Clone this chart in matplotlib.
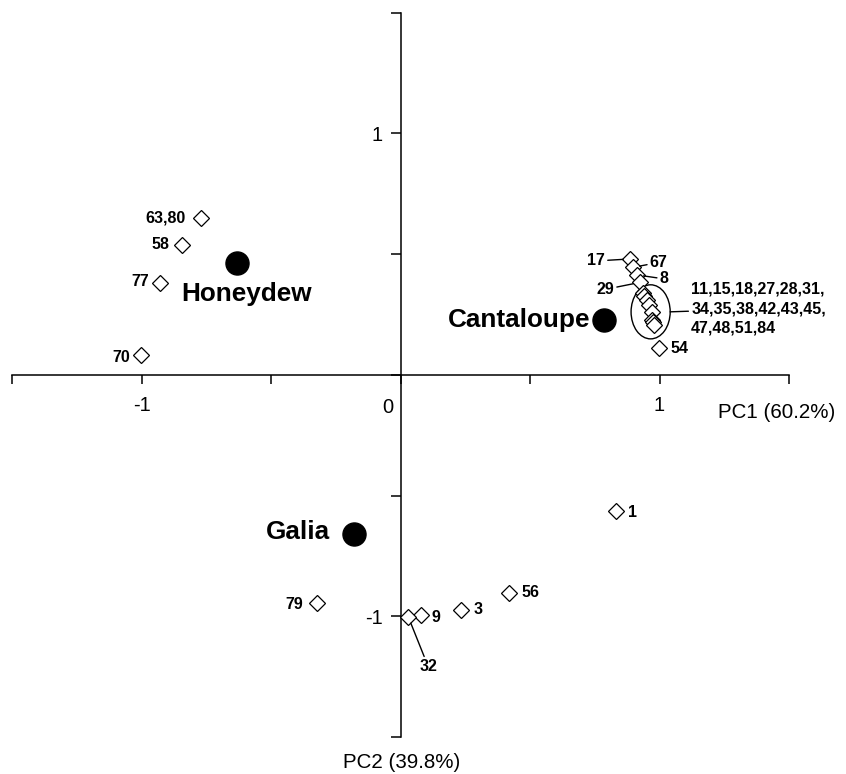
import matplotlib
matplotlib.use("Agg")
import matplotlib.pyplot as plt
from matplotlib.patches import Ellipse

plt.rcParams['font.family'] = ['Liberation Sans', 'DejaVu Sans']

# ---- data -------------------------------------------------------------
# individual samples (open diamonds)
sample_labels = ["63,80", "58", "77", "70", "54", "1", "56", "3", "9", "79",
                 "32", "17", "67", "8", "29"]
sample_pc1 = [-0.770, -0.844, -0.929, -1.003, 0.999, 0.832, 0.420, 0.234,
              0.078, -0.324, 0.030, 0.886, 0.897, 0.912, 0.925]
sample_pc2 = [0.650, 0.538, 0.379, 0.082, 0.111, -0.564, -0.902, -0.974,
              -0.995, -0.944, -1.002, 0.480, 0.445, 0.414, 0.383]

# tight cluster of samples (circled)
cluster_label = "11,15,18,27,28,31,\n34,35,38,42,43,45,\n47,48,51,84"
cluster_pc1 = [0.938, 0.942, 0.951, 0.961, 0.970, 0.970, 0.975, 0.979]
cluster_pc2 = [0.339, 0.327, 0.310, 0.289, 0.262, 0.227, 0.219, 0.207]

# melon types (filled circles)
group_labels = ["Honeydew", "Cantaloupe", "Galia"]
group_pc1 = [-0.632, 0.786, -0.178]
group_pc2 = [0.465, 0.227, -0.658]

tick_values = [-1.5, -1.0, -0.5, 0.0, 0.5, 1.0, 1.5]
tick_text = ["", "-1", "", "", "", "1", ""]

xlabel = "PC1 (60.2%)"
ylabel = "PC2 (39.8%)"

# ---- styling: label offsets (pixels) and leader lines -------------------
label_offsets = {
    "63,80": (-15, 0, "right"), "58": (-13, 0, "right"), "77": (-11, 2, "right"),
    "70": (-11, -2, "right"), "54": (11, 0, "left"), "1": (12, -1, "left"),
    "56": (12, 0, "left"), "3": (12, 1, "left"), "9": (11, -2, "left"),
    "79": (-13, -2, "right"), "32": (20, -50, "center"), "17": (-25, -2, "right"),
    "67": (17, 5, "left"), "8": (23, -4, "left"), "29": (-26, -7, "right"),
}
leader = {"32", "17", "67", "8", "29"}
group_offsets = {"Honeydew": (10, -31, "center"), "Cantaloupe": (-14, 0, "right"),
                 "Galia": (-24, 2, "right")}

# ---- figure ----------------------------------------------------------------
fig = plt.figure(figsize=(8.46, 7.74), dpi=100)
ax = fig.add_axes([12 / 846, 37 / 774, 777 / 846, 724.3 / 774])
ax.set_xlim(-1.5, 1.5)
ax.set_ylim(-1.5, 1.5)
for s in ("top", "right"):
    ax.spines[s].set_visible(False)
ax.spines["left"].set_position(("data", 0))
ax.spines["bottom"].set_position(("data", 0))
for s in ("left", "bottom"):
    ax.spines[s].set_linewidth(1.1)
ax.set_xticks(tick_values)
ax.set_yticks(tick_values)
ax.set_xticklabels(tick_text)
ax.set_yticklabels(tick_text)
ax.tick_params(axis="x", direction="out", length=6.5, width=1.1, pad=9, labelsize=14.5)
ax.tick_params(axis="y", direction="out", length=7.5, width=1.1, pad=5.5, labelsize=14.5)
ax.annotate("0", xy=(0, 0), xytext=(-13, -33), textcoords="offset pixels",
            ha="center", va="center", fontsize=14.5)

# samples
ax.plot(sample_pc1, sample_pc2, linestyle="none", marker="D", ms=8,
        mfc="white", mec="black", mew=0.9, zorder=3)
ax.plot(cluster_pc1, cluster_pc2, linestyle="none", marker="D", ms=8,
        mfc="white", mec="black", mew=0.9, zorder=3)

for lab, x, y in zip(sample_labels, sample_pc1, sample_pc2):
    dx, dy, ha = label_offsets[lab]
    kw = {}
    if lab in leader:
        kw["arrowprops"] = dict(arrowstyle="-", lw=1.0, color="black",
                                shrinkA=0, shrinkB=5)
    ax.annotate(lab, xy=(x, y), xytext=(dx, dy), textcoords="offset pixels",
                ha=ha, va="center", fontsize=11.5, fontweight="bold", **kw)

# cluster ellipse and label
ecx = sum(cluster_pc1) / len(cluster_pc1) + 0.005
ecy = (max(cluster_pc2) + min(cluster_pc2)) / 2 - 0.012
ew, eh = 0.151, 0.224
ax.add_patch(Ellipse((ecx, ecy), ew, eh, fill=False, ec="black", lw=1.0, zorder=2))
ax.annotate(cluster_label, xy=(ecx + ew / 2, ecy), xytext=(21, 3),
            textcoords="offset pixels", ha="left", va="center", fontsize=11.5,
            fontweight="bold", linespacing=1.38,
            arrowprops=dict(arrowstyle="-", lw=1.0, color="black", shrinkA=0, shrinkB=0))

# groups
ax.plot(group_pc1, group_pc2, linestyle="none", marker="o", ms=16.6,
        mfc="black", mec="black", zorder=4)
for lab, x, y in zip(group_labels, group_pc1, group_pc2):
    dx, dy, ha = group_offsets[lab]
    ax.annotate(lab, xy=(x, y), xytext=(dx, dy), textcoords="offset pixels",
                ha=ha, va="center", fontsize=18.8, fontweight="bold")

# axis titles
ax.text((718 - 12) / 777, (737 - 412) / 724.3, xlabel, transform=ax.transAxes,
        ha="left", va="center", fontsize=14.8)
ax.annotate(ylabel, xy=(0, -1.5), xytext=(1, -25), textcoords="offset pixels",
            ha="center", va="center", fontsize=14.8, annotation_clip=False)

fig.savefig("out.png", dpi=100)
